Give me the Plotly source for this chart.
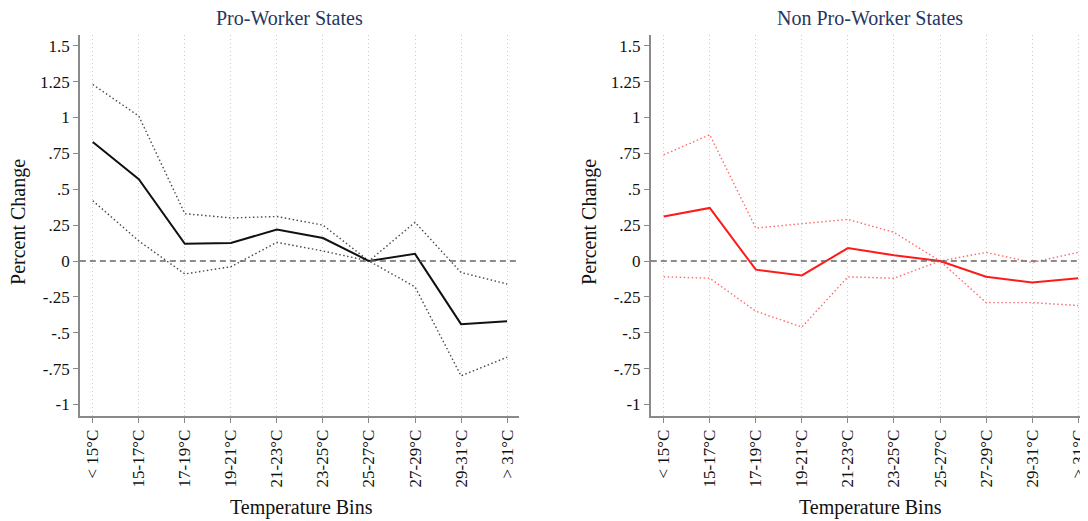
import plotly.graph_objects as go

bins = ["< 15°C", "15-17°C", "17-19°C", "19-21°C", "21-23°C",
        "23-25°C", "25-27°C", "27-29°C", "29-31°C", "> 31°C"]

pro_est = [0.83, 0.57, 0.12, 0.125, 0.22, 0.16, 0.0, 0.05, -0.44, -0.42]
pro_hi = [1.23, 1.01, 0.33, 0.30, 0.31, 0.25, 0.0, 0.27, -0.08, -0.16]
pro_lo = [0.42, 0.14, -0.09, -0.04, 0.13, 0.07, 0.0, -0.18, -0.80, -0.67]

non_est = [0.31, 0.37, -0.06, -0.10, 0.09, 0.04, 0.0, -0.11, -0.15, -0.12]
non_hi = [0.74, 0.88, 0.23, 0.26, 0.29, 0.20, 0.0, 0.06, -0.01, 0.06]
non_lo = [-0.11, -0.12, -0.35, -0.46, -0.11, -0.12, 0.0, -0.29, -0.29, -0.31]

ytick_vals = [1.5, 1.25, 1, 0.75, 0.5, 0.25, 0, -0.25, -0.5, -0.75, -1]
ytick_text = ["1.5", "1.25", "1", ".75", ".5", ".25", "0", "-.25", "-.5", "-.75", "-1"]

titles = ["Pro-Worker States", "Non Pro-Worker States"]

OFF = 8  # page body margin
W, H = 1088 - OFF, 521 - OFF
FONT = "Liberation Serif"
xs = list(range(len(bins)))


def px(x):
    return (x - OFF) / W


def py(y):
    return 1 - (y - OFF) / H


fig = go.Figure()


def add_panel(i, est, hi, lo, main_col, ci_col):
    xa = "x" if i == 0 else "x2"
    ya = "y" if i == 0 else "y2"
    for arr in (hi, lo):
        fig.add_trace(go.Scatter(x=xs, y=arr, mode="lines", xaxis=xa, yaxis=ya,
                                 line=dict(color=ci_col, width=1.4, dash="1.5px,2.5px"),
                                 showlegend=False, hoverinfo="skip"))
    fig.add_trace(go.Scatter(x=xs, y=est, mode="lines", xaxis=xa, yaxis=ya,
                             line=dict(color=main_col, width=2),
                             showlegend=False))


add_panel(0, pro_est, pro_hi, pro_lo, "#111111", "#4a4a4a")
add_panel(1, non_est, non_hi, non_lo, "#ff1a1a", "#ff6a6a")

left_dom = [px(80), px(520)]
right_dom = [px(652), 1.0]
y_dom = [py(416), py(35)]
yr = [-1.08, 1.575]

axis_common = dict(
    showline=True, linecolor="#8a8a8a", linewidth=1.6,
    ticks="outside", ticklen=5, tickcolor="#8a8a8a", tickwidth=1.2,
    tickfont=dict(family=FONT, size=17, color="#111111"),
    zeroline=False,
)

xcommon = dict(axis_common, tickmode="array", tickvals=xs, ticktext=bins,
               tickangle=-90, showgrid=True, gridcolor="#cccccc",
               griddash="1px,3px", gridwidth=1, ticklabeloverflow="allow")
ycommon = dict(axis_common, tickmode="array", tickvals=ytick_vals,
               ticktext=ytick_text, showgrid=False, range=yr, domain=y_dom)

fig.update_layout(
    width=W, height=H,
    margin=dict(l=0, r=0, t=0, b=0),
    paper_bgcolor="white", plot_bgcolor="white",
    xaxis=dict(xcommon, domain=left_dom, range=[-0.28, 9.26], anchor="y"),
    yaxis=dict(ycommon, anchor="x"),
    xaxis2=dict(xcommon, domain=right_dom, range=[-0.28, 9.17], anchor="y2"),
    yaxis2=dict(ycommon, anchor="x2"),
)

for xa, ya in (("x", "y"), ("x2", "y2")):
    fig.add_shape(type="line", xref=xa + " domain", yref=ya,
                  x0=0, x1=1, y0=0, y1=0,
                  line=dict(color="#666666", width=1.3, dash="6px,4px"))

for cx, t in ((290, titles[0]), (872, titles[1])):
    fig.add_annotation(text=t, xref="paper", yref="paper", x=px(cx), y=py(18),
                       showarrow=False, xanchor="center", yanchor="middle",
                       font=dict(family=FONT, size=20, color="#27365f"))
for cx in (302, 872):
    fig.add_annotation(text="Temperature Bins", xref="paper", yref="paper",
                       x=px(cx), y=py(507), showarrow=False,
                       xanchor="center", yanchor="middle",
                       font=dict(family=FONT, size=20, color="#111111"))
for cx in (18, 590):
    fig.add_annotation(text="Percent Change", xref="paper", yref="paper",
                       x=px(cx), y=py(222), showarrow=False, textangle=-90,
                       xanchor="center", yanchor="middle",
                       font=dict(family=FONT, size=20, color="#111111"))

fig.write_html("out.html")
